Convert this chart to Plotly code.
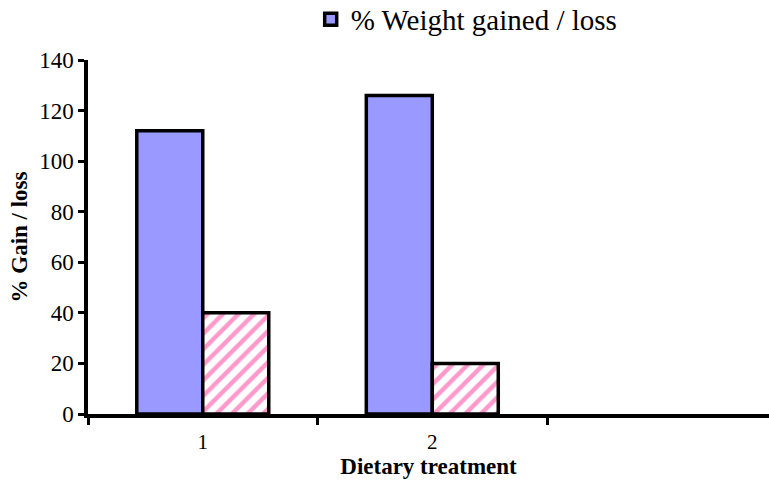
import plotly.graph_objects as go

# Dietary treatment categories (third slot is an empty group)
categories = ["1", "2", " "]
weight_gain = [112, 126, None]
second_series = [40, 20, None]

series_name = "% Weight gained / loss"
serif = "Liberation Serif"

fig = go.Figure()
fig.add_trace(go.Bar(
    x=categories, y=weight_gain, name=series_name,
    marker=dict(color="#9999FF", line=dict(color="black", width=3.5)),
    showlegend=True,
))
fig.add_trace(go.Bar(
    x=categories, y=second_series, name="",
    marker=dict(
        color="white",
        line=dict(color="black", width=3.5),
        pattern=dict(shape="/", fgcolor="#FF99CC", bgcolor="white",
                     size=11, solidity=0.4, fillmode="replace"),
    ),
    showlegend=False,
))

fig.update_layout(
    width=769, height=481,
    margin=dict(l=88, r=0, t=60, b=67, autoexpand=False),
    barmode="group", bargap=0.425, bargroupgap=0,
    plot_bgcolor="white", paper_bgcolor="white",
    font=dict(family=serif, size=21, color="black"),
    legend=dict(
        x=0.327, y=1.115, xanchor="left", yanchor="middle",
        orientation="h", font=dict(family=serif, size=29, color="black"),
        bgcolor="rgba(0,0,0,0)", itemwidth=30,
    ),
    xaxis=dict(
        type="category", categoryorder="array", categoryarray=categories,
        range=[-0.5, 2.467],
        showline=True, linecolor="black", linewidth=3.5,
        ticks="outside", tickson="boundaries", ticklen=7, tickwidth=3, tickcolor="black",
        showgrid=False, zeroline=False,
        tickfont=dict(family=serif, size=21), ticklabelstandoff=6,
        title=dict(text="<b>Dietary treatment</b>", font=dict(family=serif, size=23), standoff=2),
    ),
    yaxis=dict(
        range=[0, 140], tickvals=[0, 20, 40, 60, 80, 100, 120, 140],
        showline=True, linecolor="black", linewidth=3.5,
        ticks="outside", ticklen=6, tickwidth=3, tickcolor="black",
        showgrid=False, zeroline=False,
        tickfont=dict(family=serif, size=23),
        title=dict(text="<b>% Gain / loss</b>", font=dict(family=serif, size=23), standoff=6),
    ),
)

fig.write_html("out.html")
